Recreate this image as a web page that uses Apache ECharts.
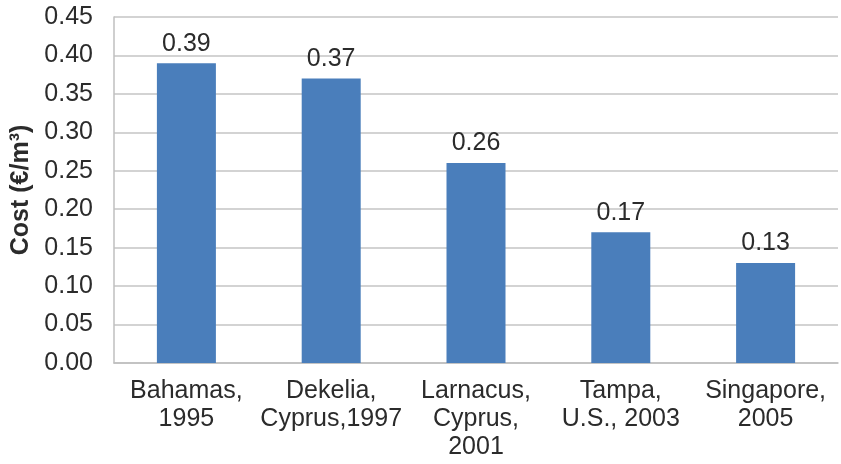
<!DOCTYPE html>
<html>
<head>
<meta charset="utf-8">
<script src="https://cdn.jsdelivr.net/npm/echarts@6/dist/echarts.min.js"></script>
<style>
  html, body { margin: 0; padding: 0; background: #fff; }
  #chart { width: 841px; height: 464px; }
</style>
</head>
<body>
<div id="chart"></div>
<script>
// Desalination plant water cost by site and year
const categories = [
  'Bahamas,\n1995',
  'Dekelia,\nCyprus,1997',
  'Larnacus,\nCyprus,\n2001',
  'Tampa,\nU.S., 2003',
  'Singapore,\n2005'
];
const costValues = [0.39, 0.37, 0.26, 0.17, 0.13];
const yTicks = { min: 0, max: 0.45, interval: 0.05 };
const yAxisTitle = 'Cost (€/m³)';

const font = '"Liberation Sans", Arial, sans-serif';
const textColor = '#2b2b2b';
const chart = echarts.init(document.getElementById('chart'), null, { renderer: 'canvas' });

chart.setOption({
  backgroundColor: '#fff',
  animation: false,
  grid: { left: 114, right: 3, top: 17, bottom: 101, containLabel: false },
  xAxis: {
    type: 'category',
    data: categories,
    axisLine: { show: true, lineStyle: { color: '#bfbfbf', width: 1.5 } },
    axisTick: { show: false },
    axisLabel: {
      color: textColor, fontFamily: font, fontSize: 25, lineHeight: 28,
      margin: 14, interval: 0
    }
  },
  yAxis: {
    type: 'value',
    min: yTicks.min, max: yTicks.max, interval: yTicks.interval,
    name: yAxisTitle,
    nameLocation: 'middle',
    nameGap: 78,
    nameRotate: 90,
    nameTextStyle: { color: textColor, fontFamily: font, fontSize: 25, fontWeight: 'bold' },
    axisLine: { show: true, lineStyle: { color: '#bfbfbf', width: 1.5 } },
    axisTick: { show: false },
    splitLine: { lineStyle: { color: '#c4c4c4', width: 1.5 } },
    axisLabel: {
      color: textColor, fontFamily: font, fontSize: 25, margin: 21,
      formatter: v => v.toFixed(2)
    }
  },
  series: [{
    type: 'bar',
    data: costValues,
    barWidth: 59,
    itemStyle: { color: '#4a7ebb' },
    label: {
      show: true, position: 'top', distance: 7,
      color: textColor, fontFamily: font, fontSize: 25,
      formatter: p => p.value.toFixed(2)
    }
  }]
});
</script>
</body>
</html>
